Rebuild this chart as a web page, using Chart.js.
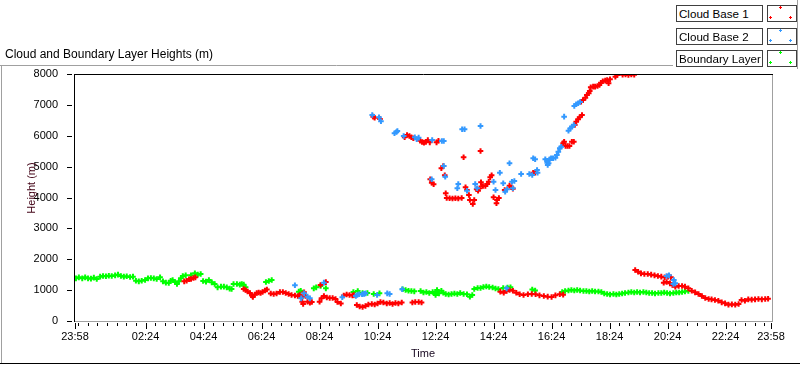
<!DOCTYPE html>
<html>
<head>
<meta charset="utf-8">
<script src="https://cdn.jsdelivr.net/npm/chart.js@4.4.0/dist/chart.umd.min.js"></script>
<style>
  body { margin: 0; background: #fff; font-family: "Liberation Sans", Arial, sans-serif; }
  #wrap { position: relative; width: 800px; height: 365px; overflow: hidden; }
  #chart { position: absolute; left: 0; top: 0; }
  .title { position: absolute; left: 5px; top: 47px; font-size: 12px; line-height: 14px; color: #000; white-space: nowrap; }
  .leg-label { position: absolute; left: 676px; width: 87px; height: 17px; box-sizing: border-box;
    border: 1px solid #404040; background: #fff; font-size: 11.6px; line-height: 15px; padding-left: 2px; white-space: nowrap; overflow: hidden; }
  .leg-box { position: absolute; left: 767px; width: 30px; height: 17px; box-sizing: border-box;
    border: 1px solid #404040; background: #fff; }
  .plus { position: absolute; width: 3px; height: 3px; }
  .plus::before { content: ''; position: absolute; left: 1px; top: 0; width: 1px; height: 3px; background: currentColor; }
  .plus::after { content: ''; position: absolute; left: 0; top: 1px; width: 3px; height: 1px; background: currentColor; }
</style>
</head>
<body>
<div id="wrap">
  <canvas id="chart" width="800" height="365"></canvas>
  <div class="title">Cloud and Boundary Layer Heights (m)</div>
  <div id="legend"></div>
</div>
<script>
// series names / colours
const seriesNames = ["Cloud Base 1", "Cloud Base 2", "Boundary Layer"];
const seriesColors = ["#ff0000", "#3399ff", "#00ff00"];

// time axis: minutes after 23:58
const xLabels = ["23:58", "02:24", "04:24", "06:24", "08:24", "10:24", "12:24", "14:24", "16:24", "18:24", "20:24", "22:24", "23:58"];
const xLabelMinutes = [0, 146, 266, 386, 506, 626, 746, 866, 986, 1106, 1226, 1346, 1440];
const yTicks = [0, 1000, 2000, 3000, 4000, 5000, 6000, 7000, 8000];
const yTitle = "Height (m)";

// [minutes after 23:58, height m]
const cloudBase1 = [
  [226,1285],[231,1306],[236,1350],[240,1360],[245,1393],[249,1414],
  [349,1036],[353,1004],[357,955],[362,907],[366,826],[368,777],[372,858],[376,907],[380,923],[384,907],[388,939],[393,988],[397,1020],
  [405,891],[411,875],[417,891],[424,939],[430,939],[436,907],[442,875],[448,842],[455,826],[461,810],[465,842],
  [469,767],[470,626],[472,551],[474,928],[477,810],[481,626],[486,594],[490,615],
  [506,626],[510,734],[515,810],[508,1166],[519,1260],
  [521,761],[527,745],[533,745],[539,713],[543,615],[550,567],[556,826],[562,858],[568,842],[574,826],[577,842],
  [583,518],[589,470],[595,453],[601,486],[607,534],[614,551],[620,534],[626,567],[632,615],[638,599],[645,567],[651,583],
  [657,551],[663,583],[669,567],[676,599],[698,599],[704,615],[711,615],[717,599],
  [880,950],[887,917],[893,972],[899,1004],[906,982],[913,917],[920,864],[928,842],[937,864],[945,875],[953,864],[961,831],
  [970,810],[978,788],[986,777],[994,831],[1003,864],[1010,853],
  [1159,1652],[1165,1597],[1171,1544],[1178,1522],[1185,1522],[1192,1501],[1199,1479],[1206,1458],[1213,1436],[1220,1414],[1227,1436],[1233,1414],
  [1218,1242],[1224,1263],[1231,1220],[1236,1166],[1242,1112],[1249,1134],[1256,1134],[1262,1112],[1269,1058],[1276,982],[1283,928],
  [1290,875],[1297,810],[1304,745],[1311,713],[1317,702],[1324,680],[1331,658],[1338,604],[1345,572],[1352,529],[1359,540],[1366,529],
  [1373,551],[1379,680],[1386,658],[1393,702],[1400,691],[1407,702],[1414,713],[1421,702],[1428,713],[1434,723],
  [617,6618],[620,6585],[631,6543],
  [682,5950],[687,6025],[692,5992],[696,5950],[700,5918],[714,5840],[718,5798],[722,5776],[726,5798],[730,5863],[734,5787],[748,5787],[752,5840],
  [735,4590],[738,4480],[742,4427],[758,4946],[762,5020],[765,4719],[767,4136],
  [769,3984],[775,3974],[781,3968],[787,3974],[793,3968],[800,3984],
  [804,5302],[808,4331],[811,4243],[815,4081],[817,3919],[823,3790],[826,3919],[831,4266],[834,4221],[837,4298],[839,5506],[840,4493],
  [844,4373],[849,4373],[853,4437],[856,4512],[859,4654],[862,4719],[866,4007],[872,3812],[873,3919],[877,3984],[889,4243],[899,4383],
  [903,4331],[906,4286],[948,4804],[952,4804],
  [1010,5756],[1012,5808],[1015,5668],[1019,5668],[1023,5668],[1028,5808],[1032,5808],[1034,6348],[1037,6456],[1041,6533],[1044,6598],
  [1049,6672],[1047,7103],[1051,7158],[1056,7233],[1059,7320],[1063,7375],[1065,7450],[1067,7570],[1072,7590],[1076,7590],[1081,7612],
  [1085,7644],[1088,7719],[1092,7763],[1097,7784],[1101,7806],[1104,7698],[1107,7827],[1118,7913],[1122,7968],[1133,7975],[1139,7985],
  [1145,7970],[1151,7985],[1157,7975]
];

const cloudBase2 = [
  [455,1156],[468,734],[474,896],[481,788],[486,734],[515,1242],[553,767],[581,810],[584,842],[588,864],[594,864],[598,880],[601,896],
  [625,842],[646,896],[651,875],[677,1026],[893,1058],[1224,1458],[1229,1479],[1239,1328],[1242,1220],[1238,1198],
  [615,6672],[629,6598],[633,6468],[661,6079],[665,6122],[667,6154],[680,5992],[703,5950],[707,5885],[711,5938],[739,5863],[759,5830],
  [763,5830],[801,6209],[806,6209],[839,6316],[763,5020],[766,4676],[738,4590],[793,4437],[791,4298],[811,4221],[828,4437],[832,4298],
  [866,4512],[879,4804],[886,4460],[870,4243],[890,4189],[894,4265],[904,4512],[909,4535],[906,4298],[899,5108],[923,4761],[940,4761],
  [946,4729],[956,4891],[957,4804],[948,5270],[952,5238],[977,5192],[980,5108],[982,5238],[973,5238],[977,5128],[978,5053],[985,5270],
  [989,5270],[994,5290],[997,5377],[1000,5484],[1003,5594],[1006,5646],[1012,6618],[1021,6164],[1025,6241],[1028,6294],[1032,6348],
  [1033,6964],[1037,7019],[1041,7051],[1045,7094]
];

const boundaryLayer = [
  [2,1382],[8,1414],[15,1382],[21,1414],[27,1382],[33,1371],[39,1404],[45,1360],[52,1436],[58,1458],[64,1447],[70,1468],[76,1458],
  [83,1479],[89,1501],[95,1458],[101,1436],[107,1447],[114,1425],[120,1436],[126,1306],[132,1285],[138,1306],[145,1328],[151,1382],
  [157,1393],[163,1382],[169,1360],[176,1414],[182,1285],[188,1242],[194,1231],[198,1306],[202,1328],[207,1263],[211,1198],[215,1285],
  [219,1382],[223,1458],[229,1479],[240,1479],[248,1544],[254,1501],[260,1522],[265,1296],[271,1274],[277,1328],[283,1252],[289,1198],
  [295,1090],[302,1112],[308,1112],[314,1090],[320,1047],[324,1036],[328,1198],[335,1198],[341,1177],[345,1198],[349,1177],[353,1090],
  [395,1263],[401,1296],[407,1328],
  [463,950],[467,982],[494,1058],[499,1090],[508,1134],[519,1058],
  [576,939],[585,972],[595,907],[605,907],[618,875],[630,896],
  [678,1026],[684,1004],[690,982],[696,972],[702,961],[715,972],[721,923],[727,939],[733,907],[740,939],[746,907],[746,842],[749,1004],
  [753,896],[758,982],[762,917],[767,875],[773,858],[779,875],[785,891],[791,875],[797,907],[804,875],[811,864],[817,788],[822,842],
  [826,1036],[833,1069],[839,1069],[845,1101],[851,1117],[857,1101],[864,1085],[870,1053],[876,1036],[886,1069],[895,1085],[901,1090],
  [946,1020],[952,988],
  [1008,939],[1014,972],[1021,988],[1027,1004],[1033,988],[1039,1004],[1045,988],[1052,972],[1058,972],[1064,955],[1070,972],[1076,955],
  [1083,955],[1089,939],[1095,891],[1101,875],[1107,858],[1114,875],[1120,858],[1126,875],[1132,891],[1138,907],[1145,923],[1151,939],
  [1157,923],[1163,939],[1169,923],[1176,939],[1182,923],[1188,907],[1194,907],[1200,891],[1207,907],[1213,907],[1219,923],[1225,907],
  [1231,891],[1238,907],[1244,923],[1250,923],[1256,939],[1262,955],[1269,972]
];

// minor ticks every 20 min, lined up on the labelled ones
let xTickMinutes = [0];
for (let m = 6; m < 1440; m += 20) xTickMinutes.push(m);
xTickMinutes.push(1440);

// legend, LabVIEW style
let legendHtml = "";
seriesNames.forEach((name, i) => {
  let top = [5, 28, 50][i];
  legendHtml += '<div class="leg-label" style="top:' + top + 'px">' + name + '</div>';
  legendHtml += '<div class="leg-box" style="top:' + top + 'px;color:' + seriesColors[i] + '">' +
    '<span class="plus" style="left:11px;top:0px"></span>' +
    '<span class="plus" style="left:1px;top:10px"></span>' +
    '<span class="plus" style="left:21px;top:10px"></span></div>';
});
document.getElementById("legend").innerHTML = legendHtml;

const toPoints = (arr) => arr.map((p) => ({ x: p[0], y: p[1] }));

const framePlugin = {
  id: "frame",
  beforeDraw(chart) {
    let ctx = chart.ctx;
    ctx.save();
    ctx.lineWidth = 1;
    ctx.strokeStyle = "#a0a0a0";
    ctx.beginPath();
    ctx.moveTo(0, 65.5); ctx.lineTo(673, 65.5);
    ctx.moveTo(1.5, 65); ctx.lineTo(1.5, 364);
    ctx.moveTo(797.5, 0); ctx.lineTo(797.5, 69);
    ctx.stroke();
    ctx.strokeStyle = "#000";
    ctx.beginPath();
    ctx.moveTo(0, 363.5); ctx.lineTo(800, 363.5);
    ctx.stroke();
    ctx.restore();
  },
  afterDraw(chart) {
    let ctx = chart.ctx;
    let a = chart.chartArea;
    let xs = chart.scales.x;
    let ys = chart.scales.y;
    ctx.save();
    ctx.lineWidth = 1;
    // plot frame
    ctx.strokeStyle = "#a0a0a0";
    ctx.beginPath();
    ctx.moveTo(a.left - 1, a.bottom + 0.5); ctx.lineTo(a.right + 2, a.bottom + 0.5);
    ctx.moveTo(a.right + 1.5, a.top); ctx.lineTo(a.right + 1.5, a.bottom + 1);
    ctx.stroke();
    ctx.strokeStyle = "#000";
    ctx.beginPath();
    ctx.moveTo(a.left - 1, a.top + 0.5); ctx.lineTo(a.right + 2, a.top + 0.5);
    ctx.moveTo(a.left - 0.5, a.top); ctx.lineTo(a.left - 0.5, a.bottom + 1);
    // y ticks
    yTicks.forEach((v) => {
      let y = Math.round(ys.getPixelForValue(v)) + 0.5;
      ctx.moveTo(a.left - 8, y); ctx.lineTo(a.left - 3, y);
    });
    // x ticks
    xTickMinutes.forEach((v) => {
      let x = Math.round(xs.getPixelForValue(v)) + 0.5;
      let len = xLabelMinutes.includes(v) ? 6 : 3;
      ctx.moveTo(x, a.bottom + 2); ctx.lineTo(x, a.bottom + 2 + len);
    });
    ctx.stroke();
    // y axis name, sits a bit above the middle like the original
    ctx.translate(32, 188);
    ctx.rotate(-Math.PI / 2);
    ctx.fillStyle = "#400014";
    ctx.font = '11px "Liberation Sans", Arial, sans-serif';
    ctx.textAlign = "center";
    ctx.textBaseline = "middle";
    ctx.fillText(yTitle, 0, 0);
    ctx.restore();
  },
};

Chart.defaults.font.family = '"Liberation Sans", Arial, sans-serif';
Chart.defaults.color = "#000";

const makeSet = (i, arr, order) => ({
  label: seriesNames[i],
  data: toPoints(arr),
  borderColor: seriesColors[i],
  backgroundColor: seriesColors[i],
  pointStyle: "cross",
  pointRadius: 2.8,
  pointBorderWidth: 2,
  order: order,
  clip: 0,
});

new Chart(document.getElementById("chart"), {
  type: "scatter",
  data: {
    datasets: [
      makeSet(0, cloudBase1, 1),
      makeSet(1, cloudBase2, 0),
      makeSet(2, boundaryLayer, 2),
    ],
  },
  options: {
    responsive: false,
    animation: false,
    devicePixelRatio: 1,
    layout: { padding: { top: 74, right: 29, bottom: 0, left: 0 } },
    plugins: { legend: { display: false }, tooltip: { enabled: false } },
    scales: {
      x: {
        type: "linear",
        min: 0,
        max: 1440,
        afterFit: (s) => { s.height = 44; },
        afterBuildTicks: (s) => { s.ticks = xTickMinutes.map((v) => ({ value: v })); },
        grid: { display: false },
        border: { display: false },
        ticks: {
          autoSkip: false,
          maxRotation: 0,
          minRotation: 0,
          padding: 1,
          font: { size: 11 },
          color: "#000",
          callback: (v) => {
            let i = xLabelMinutes.indexOf(v);
            return i >= 0 ? xLabels[i] : "";
          },
        },
        title: { display: true, text: "Time", color: "#180820", font: { size: 11 }, padding: { top: 0, bottom: 4 } },
      },
      y: {
        min: 0,
        max: 8000,
        afterFit: (s) => { s.width = 75; },
        grid: { display: false },
        border: { display: false },
        ticks: { stepSize: 1000, padding: 9, font: { size: 11 }, color: "#000", callback: (v) => String(v) },
        title: { display: false },
      },
    },
  },
  plugins: [framePlugin],
});
</script>
</body>
</html>
